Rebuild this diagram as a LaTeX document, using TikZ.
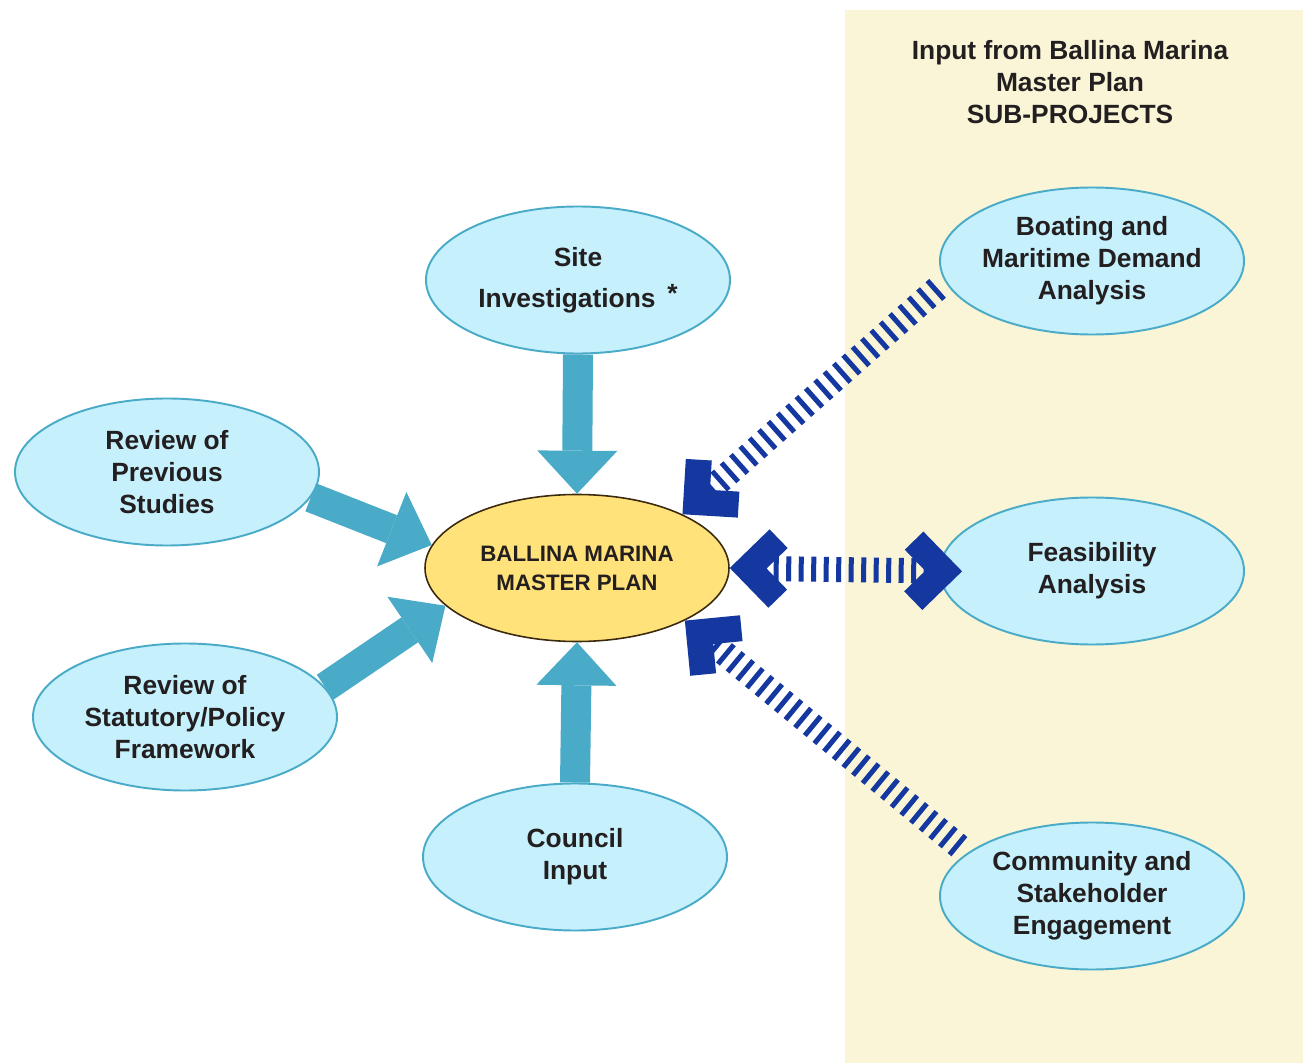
\documentclass[tikz,border=0pt]{standalone}
\usepackage{fontspec}
\setmainfont{Liberation Sans}
\usetikzlibrary{shapes.geometric,arrows.meta}
\definecolor{bubblefill}{HTML}{C5F0FC}
\definecolor{bubbleline}{HTML}{4AABC8}
\definecolor{planfill}{HTML}{FFE27A}
\definecolor{planline}{HTML}{3C2A0F}
\definecolor{subback}{HTML}{F9F5D6}
\definecolor{inputblue}{HTML}{4AABC8}
\definecolor{subblue}{HTML}{1437A0}
\definecolor{textdark}{HTML}{231F20}
\tikzset{
  bubble/.style={ellipse, draw=bubbleline, line width=1.1pt, fill=bubblefill,
    minimum width=6.08cm, minimum height=2.94cm, inner xsep=-3pt, inner ysep=0pt,
    align=center, text=textdark, font=\fontsize{15}{18.2}\selectfont\bfseries},
  plan/.style={bubble, draw=planline, line width=0.9pt, fill=planfill,
    font=\fontsize{12.7}{16.5}\selectfont\bfseries},
  input/.style={draw=inputblue, line width=0.6cm,
    -{Triangle[width=1.6cm,length=0.86cm,line width=0pt]}},
  subinput/.style={draw=subblue, line width=0.5cm, dash pattern=on 0.1cm off 0.15cm},
  >={Straight Barb[length=0.6cm,width=1.2cm,line width=0.52cm]}
}
\begin{document}
\begin{tikzpicture}
\useasboundingbox (0,0) rectangle (26.06,21.26);
\fill[white] (0,0) rectangle (26.06,21.26);
\fill[subback] (16.90,0) rectangle (26.06,21.06);
% sub-projects
\node[align=center, text=textdark, font=\fontsize{15}{18.2}\selectfont\bfseries] (title) at (21.40,19.62) {Input from Ballina Marina\\Master Plan\\SUB-PROJECTS};
\node[bubble] (boating) at (21.84,16.04) {Boating and\\Maritime Demand\\Analysis};
\node[bubble] (feasibility) at (21.84,9.84) {Feasibility\\Analysis};
\node[bubble] (community) at (21.84,3.34) {Community and\\Stakeholder\\Engagement};
% inputs
\node[bubble] (site) at (11.56,15.66) {Site\\[5pt]Investigations\hspace{0.45em}\raisebox{2.5pt}{*}};
\node[bubble] (previous) at (3.34,11.82) {Review of\\Previous\\Studies};
\node[bubble] (statutory) at (3.70,6.92) {Review of\\Statutory/Policy\\Framework};
\node[bubble] (council) at (11.50,4.12) {Council\\Input};
\node[plan] (plan) at (11.54,9.90) {BALLINA MARINA\\MASTER PLAN};
% arrows
\draw[input] (site.south) -- (plan.north);
\draw[input] (council.north) -- (plan.south);
\draw[input] (previous.350) -- (plan.171);
\draw[input] (statutory.12) -- (plan.196);
\draw[subinput,->,shorten <=0.2cm] (boating.188) -- (plan.27);
\draw[subinput,<->,shorten >=-0.46cm] (plan.east) -- (feasibility.west);
\draw[subinput,->,shorten <=0.2cm] (community.161) -- (plan.334);
\end{tikzpicture}
\end{document}
